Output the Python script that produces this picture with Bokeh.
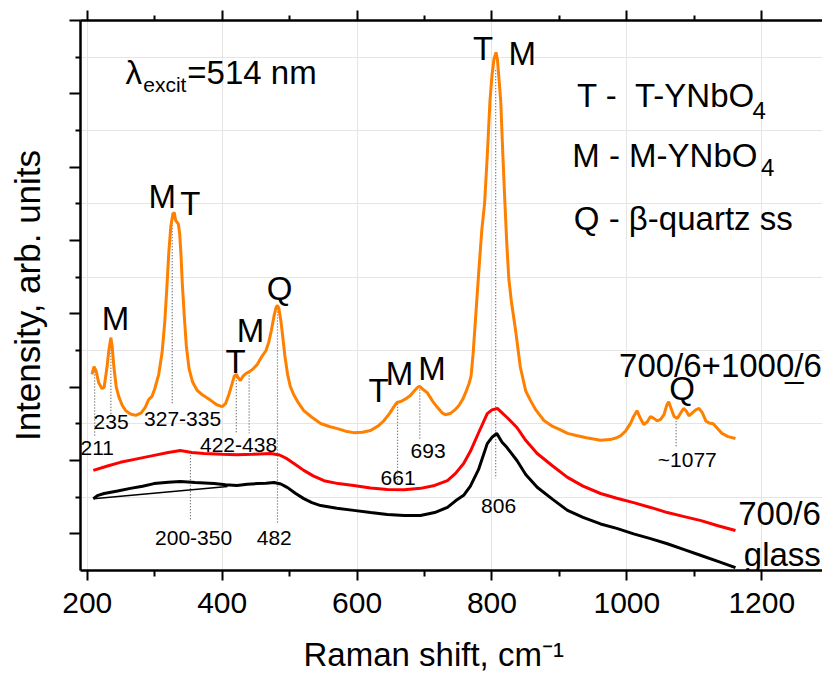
from bokeh.plotting import figure
from bokeh.models import Range1d, LinearAxis, FixedTicker, ColumnDataSource, Title
from bokeh.core.properties import value
from bokeh.embed import file_html
from bokeh.resources import INLINE

FONT = "Liberation Sans"

# ---------------- data (Raman shift, cm-1 / intensity, arb. units) ----------------
orange_x = [207, 210, 213, 217, 222, 225, 229, 232, 235, 237, 239.5, 243, 247, 252, 257, 264, 272, 280, 286,
            291, 296, 300, 306, 311, 315, 318, 321, 324, 327, 329, 331, 333, 335, 337, 339, 341, 344, 347, 351,
            356, 363, 370, 383, 392, 400, 405, 410, 414, 418, 421, 424, 427, 431, 436, 441, 446, 452, 459, 465,
            469, 473, 477, 480, 482, 484, 487, 490, 493, 497, 501, 506, 512, 521, 533, 546, 560, 571, 583, 595,
            608, 620, 632, 640, 648, 654, 659, 665, 672, 679, 686, 690, 693, 697, 704, 712, 719, 726, 731, 738,
            745, 751, 757, 762, 766, 769, 772, 775, 778, 781, 785, 789, 793, 797, 800, 803, 806, 808, 810, 813,
            816, 819, 822, 825, 829, 835, 842, 850, 857, 865, 877, 890, 900, 912, 925, 940, 961, 975, 985, 991,
            998, 1005, 1010, 1015, 1020, 1025, 1030, 1035, 1040, 1045, 1050, 1055, 1059, 1062, 1066, 1070, 1075,
            1080, 1084, 1088, 1092, 1097, 1102, 1107, 1112, 1117, 1122, 1128, 1134, 1141, 1150, 1161]
orange_y = [5.35, 5.56, 5.45, 5.12, 4.96, 5.0, 5.5, 6.0, 6.35, 6.1, 5.55, 5.0, 4.73, 4.5, 4.36, 4.27, 4.23, 4.3, 4.45,
            4.66, 4.75, 4.95, 5.35, 5.95, 6.8, 7.7, 8.7, 9.4, 9.72, 9.76, 9.55, 9.5, 9.45, 9.2, 8.6, 7.8, 6.9, 6.1, 5.5,
            5.15, 4.91, 4.8, 4.64, 4.52, 4.47, 4.55, 4.8, 5.05, 5.3, 5.35, 5.25, 5.18, 5.3, 5.38, 5.43, 5.5, 5.62, 5.84, 6.0,
            6.22, 6.55, 6.95, 7.18, 7.23, 7.15, 6.82, 6.35, 5.85, 5.35, 5.02, 4.8, 4.6, 4.36, 4.18, 4.01, 3.92, 3.87, 3.8, 3.76,
            3.77, 3.82, 3.95, 4.09, 4.28, 4.45, 4.58, 4.61, 4.68, 4.77, 4.92, 5.0, 5.02, 4.95, 4.85, 4.62, 4.45, 4.3, 4.25, 4.28,
            4.38, 4.5, 4.68, 4.9, 5.1, 5.3, 5.9, 6.7, 7.5, 8.3, 9.3, 10.0, 11.3, 12.8, 13.5, 13.95, 14.13, 13.95, 13.5, 12.8,
            11.4, 10.1, 8.9, 7.95, 7.3, 6.55, 5.55, 4.9, 4.64, 4.38, 4.09, 3.93, 3.85, 3.74, 3.68, 3.62, 3.55, 3.57, 3.62, 3.68,
            3.8, 4.0, 4.2, 4.36, 4.15, 3.98, 4.05, 4.2, 4.15, 4.08, 4.12, 4.25, 4.5, 4.6, 4.4, 4.2, 4.15,
            4.3, 4.42, 4.35, 4.22, 4.3, 4.38, 4.42, 4.3, 4.08, 4.02, 4.0, 3.88, 3.74, 3.65, 3.6]

red_x = [209, 230, 249, 270, 299, 320, 338, 355, 373, 400, 422, 445, 472, 485, 496, 508, 521, 535, 551, 572, 595,
         620, 645, 670, 694, 715, 734, 746, 758, 768, 780, 793, 800, 808, 815, 822, 837, 850, 867, 890, 912, 935,
         961, 985, 1010, 1035, 1060, 1085, 1110, 1135, 1161]
red_y = [2.73, 2.85, 2.95, 3.03, 3.14, 3.22, 3.27, 3.22, 3.19, 3.17, 3.16, 3.17, 3.19, 3.15, 3.05, 2.9, 2.73, 2.58, 2.45,
         2.37, 2.32, 2.25, 2.21, 2.2, 2.24, 2.32, 2.45, 2.65, 2.92, 3.25, 3.75, 4.28, 4.38, 4.42, 4.3, 4.18, 3.9, 3.55,
         3.19, 2.85, 2.54, 2.3, 2.1, 1.97, 1.85, 1.72, 1.58, 1.47, 1.36, 1.22, 1.09]

black_x = [209, 216, 225, 245, 264, 282, 299, 320, 338, 360, 388, 405, 422, 437, 452, 465, 477, 487, 497, 509, 521,
           533, 546, 570, 595, 620, 645, 670, 694, 715, 734, 746, 758, 768, 780, 793, 800, 807, 815, 822, 837, 850,
           867, 890, 912, 935, 961, 985, 1010, 1035, 1060, 1085, 1110, 1135, 1161]
black_y = [1.96, 2.05, 2.1, 2.17, 2.24, 2.3, 2.37, 2.41, 2.43, 2.4, 2.37, 2.34, 2.32, 2.35, 2.37, 2.38, 2.4, 2.36, 2.26,
           2.1, 1.96, 1.85, 1.77, 1.7, 1.64, 1.58, 1.53, 1.5, 1.5, 1.58, 1.72, 1.9, 2.05, 2.3, 2.75, 3.46, 3.63, 3.74,
           3.5, 3.36, 3.0, 2.62, 2.27, 1.94, 1.64, 1.45, 1.27, 1.15, 1.0, 0.87, 0.73, 0.57, 0.41, 0.25, 0.08]

baseline_x = [209, 408]
baseline_y = [1.96, 2.29]

# dotted drop lines at the assigned bands
drop_x = [211, 235, 326, 421, 440, 482, 353, 660, 693, 805.5, 1073]
drop_top = [5.51, 6.35, 9.74, 5.35, 5.40, 7.23, 3.14, 4.55, 5.02, 13.64, 4.15]
drop_bottom = [3.63, 4.23, 4.55, 3.76, 3.74, 1.31, 1.36, 2.40, 3.55, 2.51, 3.35]

# band position labels
num_text = ["211", "235", "327-335", "422-438", "482", "200-350", "661", "693", "806", "~1077"]
num_x = [214.8, 235.3, 341.3, 424.3, 477.2, 357.6, 660.8, 705.3, 809.8, 1089.5]
num_y = [3.35, 4.06, 4.12, 3.41, 0.90, 0.90, 2.52, 3.27, 1.77, 3.04]

# phase letters
letter_text = ["M", "M", "T", "T", "M", "Q", "T", "M", "M", "T", "M", "Q"]
letter_x = [242, 311, 353, 420, 442, 485, 632, 663, 711, 787, 845, 1082]
letter_y = [6.87, 10.19, 10.01, 5.71, 6.55, 7.69, 4.90, 5.37, 5.51, 14.25, 14.11, 4.96]

# sample names (right aligned)
sample_text = ["700/6+100" + "0\u0332" + "/6", "700/6", "glass"]
sample_x = [1289, 1287.5, 1287.5]
sample_y = [5.59, 1.55, 0.44]

# legend (left aligned)
legend_text = ["T -\u00a0\u00a0T-YNbO", "M - M-YNbO", "Q - \u03b2-quartz ss"]
legend_x = [926.0, 919.0, 921.4]
legend_y = [12.95, 11.32, 9.59]
legend_sub = ["4", "4"]
legend_sub_x = [1186.2, 1198.7]
legend_sub_y = [12.55, 11.0]

x_major = [200, 400, 600, 800, 1000, 1200]
x_minor = [300, 500, 700, 900, 1100]
y_major = [1, 3, 5, 7, 9, 11, 13, 15]
y_minor = [2, 4, 6, 8, 10, 12, 14]

# ---------------- figure ----------------
p = figure(width=822, height=673, x_range=Range1d(190, 1290), y_range=Range1d(0, 15),
           output_backend="svg", toolbar_location=None,
           x_axis_location=None, y_axis_location=None,
           min_border_left=80, min_border_right=0, min_border_top=20, min_border_bottom=103)
p.outline_line_color = None
p.background_fill_color = "white"
p.border_fill_color = "white"


def style_axis(ax, major_out, minor_out):
    ax.axis_line_width = 2.5
    ax.axis_line_color = "black"
    ax.major_tick_line_width = 2
    ax.minor_tick_line_width = 2
    ax.major_tick_line_color = "black"
    ax.minor_tick_line_color = "black"
    ax.major_tick_in = 0
    ax.major_tick_out = major_out
    ax.minor_tick_in = 0
    ax.minor_tick_out = minor_out
    ax.major_label_text_font = FONT
    ax.axis_label_text_font = FONT
    ax.axis_label_text_font_style = "normal"
    ax.axis_label_text_color = "black"
    ax.major_label_text_color = "black"


xb = LinearAxis(ticker=FixedTicker(ticks=x_major, minor_ticks=x_minor))
style_axis(xb, 10, 6)
xb.major_label_text_font_size = "30px"
xb.major_label_standoff = 12
p.add_layout(xb, "below")

# blank spacer panel between the tick labels and the axis title
p.add_layout(Title(text=" ", text_font=FONT, text_font_size="1px", standoff=15), "below")

# x axis title as a title panel under the axis
p.add_layout(Title(text="Raman shift, cm\u207b\u00b9", text_font=FONT, text_font_size="33px",
                   text_font_style="normal", text_color="black", align="left", offset=223,
                   standoff=0, vertical_align="bottom"), "below")

xt = LinearAxis(ticker=FixedTicker(ticks=x_major, minor_ticks=x_minor))
style_axis(xt, 10, 5)
xt.major_label_text_font_size = "0px"
xt.major_label_standoff = 0
xt.major_label_overrides = {v: "" for v in x_major}
p.add_layout(xt, "above")

yl = LinearAxis(ticker=FixedTicker(ticks=y_major, minor_ticks=y_minor))
style_axis(yl, 11, 5)
yl.major_label_text_font_size = "0px"
yl.major_label_standoff = 0
yl.major_label_overrides = {v: "" for v in y_major}
yl.axis_label = "Intensity, arb. units"
yl.axis_label_text_font_size = "35px"
yl.axis_label_standoff = 23
p.add_layout(yl, "left")

# drop lines
drops = ColumnDataSource(dict(x=drop_x, top=drop_top, bottom=drop_bottom))
p.segment(x0="x", y0="top", x1="x", y1="bottom", source=drops,
          line_color="#555555", line_width=1.2, line_dash="1 2")

# spectra
p.line(baseline_x, baseline_y, line_color="black", line_width=1.5)
p.line(black_x, black_y, line_color="black", line_width=3)
p.line(red_x, red_y, line_color="#ff0000", line_width=3)
p.line(orange_x, orange_y, line_color="#ff8000", line_width=3)

# texts
p.text(x=num_x, y=num_y, text=num_text, text_font=value(FONT), text_font_size=value("21px"),
       text_align="center", text_baseline="middle", text_color="black")
p.text(x=letter_x, y=letter_y, text=letter_text, text_font=value(FONT), text_font_size=value("33px"),
       text_align="center", text_baseline="middle", text_color="black")
p.text(x=sample_x, y=sample_y, text=sample_text, text_font=value(FONT), text_font_size=value("33px"),
       text_align="right", text_baseline="alphabetic", text_color="black")
p.text(x=legend_x, y=legend_y, text=legend_text, text_font=value(FONT), text_font_size=value("33px"),
       text_align="left", text_baseline="alphabetic", text_color="black")
p.text(x=legend_sub_x, y=legend_sub_y, text=legend_sub, text_font=value(FONT), text_font_size=value("24px"),
       text_align="left", text_baseline="alphabetic", text_color="black")

# excitation wavelength
p.text(x=[256.8], y=[13.59], text=["\u03bb"], text_font=value(FONT), text_font_size=value("33px"),
       text_align="left", text_baseline="alphabetic", text_color="black")
p.text(x=[283.0], y=[13.25], text=["excit"], text_font=value(FONT), text_font_size=value("21px"),
       text_align="left", text_baseline="alphabetic", text_color="black")
p.text(x=[348.3], y=[13.59], text=["=514 nm"], text_font=value(FONT), text_font_size=value("33px"),
       text_align="left", text_baseline="alphabetic", text_color="black")

open("out.html", "w").write(file_html(p, INLINE))
